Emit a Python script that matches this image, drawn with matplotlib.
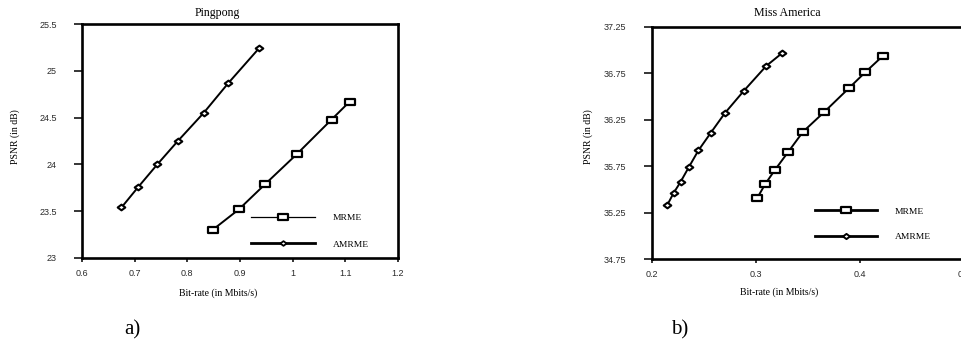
import matplotlib
matplotlib.use("Agg")
import matplotlib.pyplot as plt
from matplotlib.path import Path
from matplotlib.lines import Line2D

# Pingpong data (bit-rate in Mbits/s, PSNR in dB)
pp_mrme_rate = [0.848, 0.898, 0.948, 1.008, 1.074, 1.108]
pp_mrme_psnr = [23.30, 23.52, 23.79, 24.11, 24.48, 24.67]
pp_amrme_rate = [0.675, 0.707, 0.743, 0.782, 0.831, 0.878, 0.936]
pp_amrme_psnr = [23.54, 23.76, 24.00, 24.25, 24.55, 24.87, 25.24]

# Miss America data
ma_mrme_rate = [0.3016, 0.3093, 0.3185, 0.3310, 0.3454, 0.3655, 0.3895, 0.4051, 0.4224]
ma_mrme_psnr = [35.41, 35.56, 35.71, 35.90, 36.12, 36.33, 36.59, 36.76, 36.94]
ma_amrme_rate = [0.2150, 0.2211, 0.2278, 0.2358, 0.2450, 0.2569, 0.2703, 0.2885, 0.3102, 0.3256]
ma_amrme_psnr = [35.33, 35.46, 35.58, 35.74, 35.92, 36.11, 36.32, 36.56, 36.83, 36.97]

pp_xticks = [0.6, 0.7, 0.8, 0.9, 1.0, 1.1, 1.2]
pp_xlabels = ["0.6", "0.7", "0.8", "0.9", "1", "1.1", "1.2"]
pp_yticks = [23, 23.5, 24, 24.5, 25, 25.5]
pp_ylabels = ["23", "23.5", "24", "24.5", "25", "25.5"]
ma_xticks = [0.2, 0.3, 0.4, 0.5]
ma_xlabels = ["0.2", "0.3", "0.4", "0.5"]
ma_yticks = [34.75, 35.25, 35.75, 36.25, 36.75, 37.25]
ma_ylabels = ["34.75", "35.25", "35.75", "36.25", "36.75", "37.25"]

serif = "Liberation Serif"
sans = "Liberation Sans"

# open rectangle and small diamond markers
rect = Path([(-1, -0.7), (1, -0.7), (1, 0.7), (-1, 0.7), (-1, -0.7)],
            [Path.MOVETO, Path.LINETO, Path.LINETO, Path.LINETO, Path.CLOSEPOLY])
diam = Path([(-1, 0), (0, 0.75), (1, 0), (0, -0.75), (-1, 0)],
            [Path.MOVETO, Path.LINETO, Path.LINETO, Path.LINETO, Path.CLOSEPOLY])

sq_kw = dict(color="black", lw=1.4, marker=rect, ms=6.5, mfc="white", mec="black", mew=1.6)
dm_kw = dict(color="black", lw=1.4, marker=diam, ms=5.5, mfc="white", mec="black", mew=1.5)

fig = plt.figure(figsize=(9.61, 3.45), dpi=100)


def style_axes(ax, xticks, xlabels, yticks, ylabels):
    for s in ax.spines.values():
        s.set_linewidth(1.9)
    ax.set_xticks(xticks)
    ax.set_xticklabels(xlabels)
    ax.set_yticks(yticks)
    ax.set_yticklabels(ylabels)
    ax.tick_params(axis="y", direction="out", length=6, width=1.1, pad=12,
                   labelsize=6.5, labelcolor="#2a2a2a")
    ax.tick_params(axis="x", direction="out", length=3, width=1.1, pad=5,
                   labelsize=6.5, labelcolor="#2a2a2a")
    for lab in ax.get_xticklabels() + ax.get_yticklabels():
        lab.set_fontfamily(sans)


# a) Pingpong
ax1 = fig.add_axes([0.0853, 0.2522, 0.3288, 0.678])
ax1.plot(pp_mrme_rate, pp_mrme_psnr, **sq_kw)
ax1.plot(pp_amrme_rate, pp_amrme_psnr, **dm_kw)
ax1.set_xlim(0.6, 1.2)
ax1.set_ylim(23, 25.5)
style_axes(ax1, pp_xticks, pp_xlabels, pp_yticks, pp_ylabels)
h1 = [Line2D([], [], color="black", lw=0.9, marker=rect, ms=6.5, mfc="white", mew=1.6),
      Line2D([], [], color="black", lw=2.0, marker=diam, ms=4.5, mfc="white", mew=1.3)]
ax1.legend(h1, ["MRME", "AMRME"], loc="upper left", bbox_to_anchor=(0.519, 0.21),
           frameon=False, borderpad=0, handlelength=6.8, handletextpad=1.9,
           labelspacing=1.9, prop={"family": serif, "size": 6.8})

# b) Miss America (right edge runs past the figure, as in the original)
ax2 = fig.add_axes([0.678, 0.249, 0.325, 0.673])
ax2.plot(ma_mrme_rate, ma_mrme_psnr, **sq_kw)
ax2.plot(ma_amrme_rate, ma_amrme_psnr, **dm_kw)
ax2.set_xlim(0.2, 0.5)
ax2.set_ylim(34.75, 37.25)
style_axes(ax2, ma_xticks, ma_xlabels, ma_yticks, ma_ylabels)
h2 = [Line2D([], [], color="black", lw=2.0, marker=rect, ms=6.5, mfc="white", mew=1.6),
      Line2D([], [], color="black", lw=2.0, marker=diam, ms=5.0, mfc="white", mew=1.4)]
ax2.legend(h2, ["MRME", "AMRME"], loc="upper left", bbox_to_anchor=(0.507, 0.245),
           frameon=False, borderpad=0, handlelength=6.6, handletextpad=1.9,
           labelspacing=1.8, prop={"family": serif, "size": 6.8})

# titles, axis labels and panel letters
fig.text(217 / 961, 1 - 13 / 345, "Pingpong", family=serif, fontsize=8.6, ha="center", va="center")
fig.text(787 / 961, 1 - 13 / 345, "Miss America", family=serif, fontsize=8.6, ha="center", va="center")
fig.text(15 / 961, 1 - 137 / 345, "PSNR (in dB)", family=serif, fontsize=7, rotation=90,
         ha="center", va="center")
fig.text(588 / 961, 1 - 137 / 345, "PSNR (in dB)", family=serif, fontsize=7, rotation=90,
         ha="center", va="center")
fig.text(218 / 961, 1 - 293 / 345, "Bit-rate (in Mbits/s)", family=serif, fontsize=7,
         ha="center", va="center")
fig.text(779 / 961, 1 - 292 / 345, "Bit-rate (in Mbits/s)", family=serif, fontsize=7,
         ha="center", va="center")
fig.text(132 / 961, 1 - 330 / 345, "a)", family=serif, fontsize=15, ha="center", va="center")
fig.text(680 / 961, 1 - 330 / 345, "b)", family=serif, fontsize=15, ha="center", va="center")

fig.savefig("out.png", dpi=100)
